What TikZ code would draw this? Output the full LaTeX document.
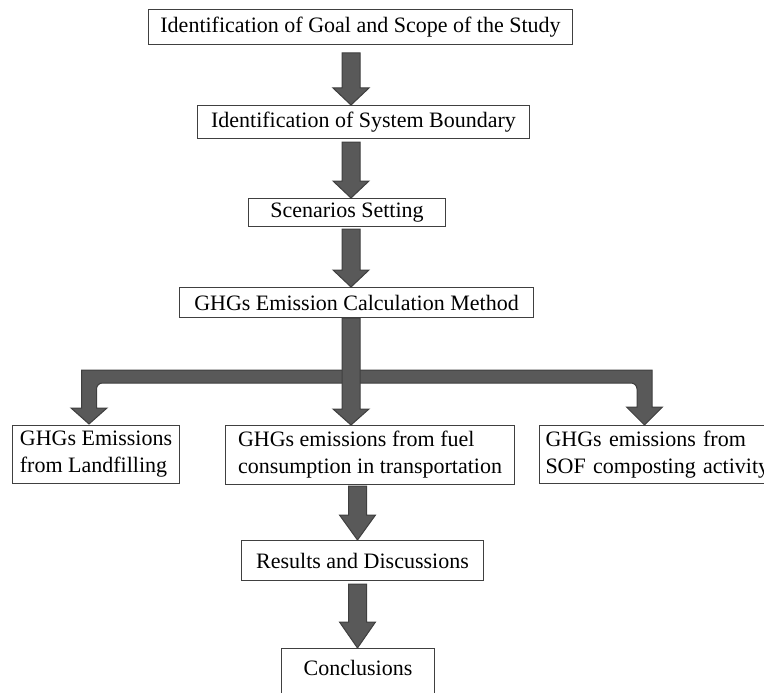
\documentclass[tikz,border=0pt]{standalone}
\usepackage{fontspec}
\setmainfont{Liberation Serif}
\usetikzlibrary{calc}

\definecolor{arrowgrey}{HTML}{595959}
\definecolor{arrowedge}{HTML}{3F3F3F}
\definecolor{boxline}{HTML}{404040}

\tikzset{
	stage/.style = {draw = boxline, line width = 1pt, anchor = north west, align = left,
		inner sep = 3pt, font = \fontsize{22}{27}\selectfont},
	fatarrow/.style = {fill = arrowgrey, draw = arrowedge, line width = 1pt, line join = miter}
}

\def\shaft{9pt}		% Half width of arrow shaft
\def\head{18pt}		% Half width of arrow head

% #1 head length, #2 start of shaft, #3 tip
\newcommand{\blockarrow}[3][17pt]{%
	\draw [fatarrow] let \p1 = #2, \p2 = #3 in
		(\x2 - \shaft, \y1) -- (\x2 + \shaft, \y1) -- (\x2 + \shaft, \y2 + #1)
		-- (\x2 + \head, \y2 + #1) -- (\x2, \y2) -- (\x2 - \head, \y2 + #1)
		-- (\x2 - \shaft, \y2 + #1) -- cycle;
}

\begin{document}
\begin{tikzpicture}[x = 1pt, y = -1pt]

	\useasboundingbox (0, 0) rectangle (764, 693);
	\clip (0, 0) rectangle (764, 693);

	% Stages

	\node [stage, minimum width = 424pt, minimum height = 35pt] (goal) at (148, 9) {Identification of Goal and Scope of the Study};
	\node [stage, minimum width = 332pt, minimum height = 33pt] (boundary) at (197, 105) {Identification of System Boundary};
	\node [stage, minimum width = 197pt, minimum height = 28pt] (scenario) at (248, 198) {Scenarios Setting};
	\node [stage, minimum width = 354pt, minimum height = 30pt] (method) at (179, 287) {GHGs Emission Calculation Method};

	\node [stage, minimum width = 167pt, minimum height = 58pt] (landfill) at (12, 425) {GHGs Emissions\\from Landfilling};
	\node [stage, minimum width = 289pt, minimum height = 59pt] (transport) at (225, 425) {GHGs emissions from fuel\\consumption in transportation};
	\node [stage, text width = 240pt, inner xsep = 6pt, minimum height = 58pt] (compost) at (539, 425) {GHGs emissions from\\SOF composting activity};

	\node [stage, minimum width = 242pt, minimum height = 40pt] (results) at (241, 540) {Results and Discussions};
	\node [stage, minimum width = 153pt, inner ysep = 12pt, text depth = 20pt] (concl) at (281, 648) {Conclusions};

	% Spines and tips

	\coordinate (spine) at (351, 0);
	\coordinate (lowspine) at (357.5, 0);
	\coordinate (bar) at (351, 370);
	\coordinate (lefttip) at (89, 424);
	\coordinate (righttip) at (644.5, 425);

	% Arrows down the chain

	\blockarrow{([yshift = -8pt] goal.south)}{(spine |- boundary.north)}
	\blockarrow{([yshift = -3pt] boundary.south)}{(spine |- scenario.north)}
	\blockarrow{([yshift = -2pt] scenario.south)}{(spine |- method.north)}

	% Branches to the side stages

	\draw [fatarrow] let \p1 = (bar), \p2 = (lefttip) in
		(\x1, \y1) -- (\x2 - 7.5pt, \y1) -- (\x2 - 7.5pt, \y2 + 16pt) -- (\x2 - \head, \y2 + 16pt)
		-- (\x2, \y2) -- (\x2 + \head, \y2 + 16pt) -- (\x2 + 7.5pt, \y2 + 16pt)
		[rounded corners = 6pt] -- (\x2 + 7.5pt, \y1 - 13pt) -- (\x1, \y1 - 13pt) [sharp corners] -- cycle;
	\draw [fatarrow] let \p1 = (bar), \p2 = (righttip) in
		(\x1, \y1) -- (\x2 + 7.5pt, \y1) -- (\x2 + 7.5pt, \y2 + 18pt) -- (\x2 + \head, \y2 + 18pt)
		-- (\x2, \y2) -- (\x2 - \head, \y2 + 18pt) -- (\x2 - 7.5pt, \y2 + 18pt)
		[rounded corners = 6pt] -- (\x2 - 7.5pt, \y1 - 13pt) -- (\x1, \y1 - 13pt) [sharp corners] -- cycle;

	\blockarrow[16pt]{(method.south)}{(spine |- transport.north)}

	% Arrows to the end

	\blockarrow[25pt]{([yshift = -1pt] transport.south)}{(lowspine |- results.north)}
	\blockarrow[26pt]{([yshift = -3pt] results.south)}{(lowspine |- concl.north)}

\end{tikzpicture}
\end{document}
